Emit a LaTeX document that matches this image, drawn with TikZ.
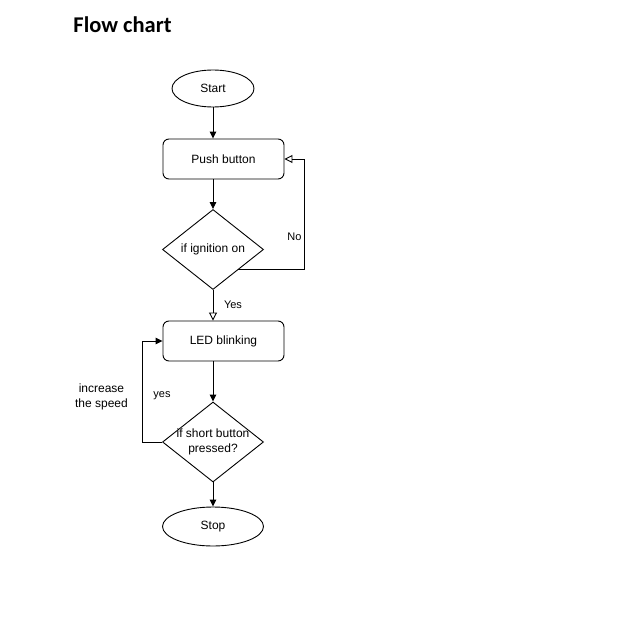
\documentclass[tikz,border=0pt]{standalone}
\usepackage{fontspec}
\setmainfont{Liberation Sans}
\newfontfamily\titlefont{Carlito}
\usetikzlibrary{arrows.meta,shapes.geometric}
\begin{document}
\begin{tikzpicture}[x=1pt,y=-1pt,line width=0.9pt,
  every node/.style={font=\fontsize{12}{15}\selectfont},
  small/.style={font=\fontsize{11}{14}\selectfont},
  term/.style={draw,ellipse,inner sep=0pt},
  proc/.style={draw,rounded corners=6pt,minimum width=121pt,minimum height=40pt,inner sep=0pt},
  decis/.style={draw,diamond,minimum width=101pt,minimum height=80pt,inner sep=0pt},
  arr/.style={-{Triangle[length=7pt,width=6.5pt]}},
  oarr/.style={-{Triangle[open,length=8pt,width=8pt]}}]
\useasboundingbox (0,0) rectangle (642,626);
\node[anchor=base west,inner sep=0pt,font=\titlefont\bfseries\fontsize{22.5}{26}\selectfont] (title) at (73,33) {Flow chart};
\node[term,minimum width=82pt,minimum height=37pt] (start) at (213,88.5) {Start};
\node[proc] (push) at (223.5,159) {Push button};
\node[decis,label={center:if ignition on}] (ign) at (213,249.5) {};
\node[proc] (led) at (223.5,341) {LED blinking};
\node[decis,label={[align=center,font=\fontsize{12}{15}\selectfont]center:if short button\\pressed?}] (sbp) at (213,442) {};
\node[term,minimum width=101pt,minimum height=39pt] (stop) at (213,526.5) {Stop};
\foreach \a/\b in {start/push,push/ign,led/sbp,sbp/stop}{
    \draw[arr] (\a.south -| ign.north) -- (\b.north -| ign.north);
}
\draw[oarr] (ign.south) -- (ign.south |- led.north);
\draw[oarr] (ign.south east) -| ([xshift=20pt]push.east) -- (push.east);
\draw[arr] (sbp.west) -- ++(-20,0) |- (led.west);
\node[small] (yes1) at (233,305) {Yes};
\node[small] (no) at (294.5,237) {No};
\node[small] (yes2) at (162,396) {yes};
\node[align=center] (incr) at (101.5,397) {increase\\the speed};
\end{tikzpicture}
\end{document}
